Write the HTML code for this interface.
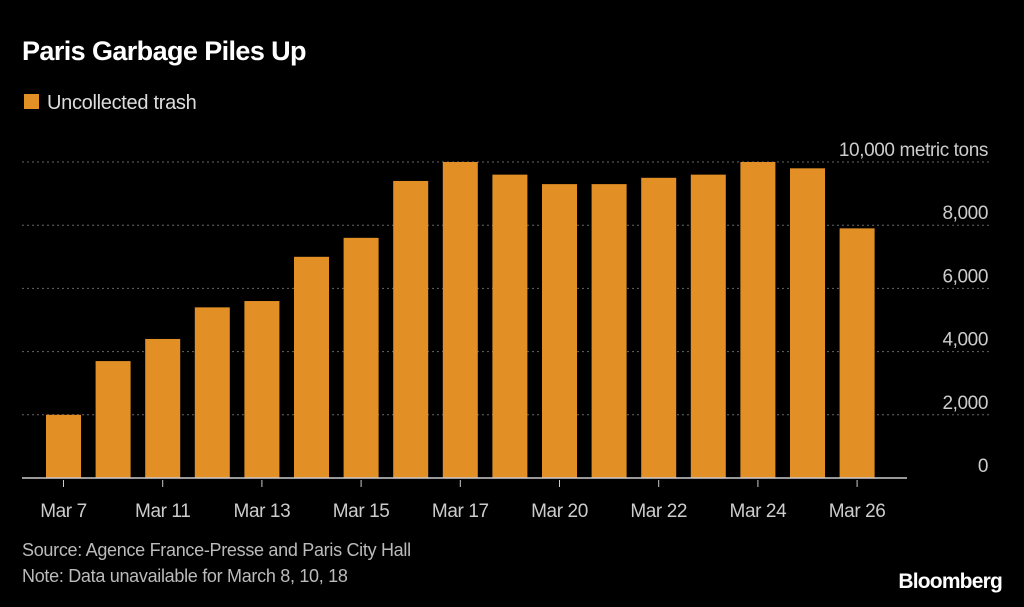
<!DOCTYPE html>
<html><head><meta charset="utf-8"><style>
html,body{margin:0;padding:0;background:#000;}
body{width:1024px;height:602px;overflow:hidden;font-family:"Liberation Sans",sans-serif;}
</style></head><body>
<svg id="chart" width="1024" height="602" xmlns="http://www.w3.org/2000/svg">
<rect x="0" y="0" width="1024" height="602" fill="#000"/>
<text x="22" y="60" fill="#fff" font-size="27" font-weight="bold" letter-spacing="-0.6">Paris Garbage Piles Up</text>
<rect x="24" y="94" width="15" height="15" fill="#e28f25"/>
<text x="47" y="109" fill="#ddd" font-size="20" letter-spacing="-0.3">Uncollected trash</text>
<g id="grid"></g>
<g id="bars"></g>
<g id="xlabels"></g>
<text x="22" y="556" fill="#bbb" font-size="18" letter-spacing="-0.3">Source: Agence France-Presse and Paris City Hall</text>
<text x="22" y="582" fill="#bbb" font-size="18" letter-spacing="-0.3">Note: Data unavailable for March 8, 10, 18</text>
<text x="1002" y="588" fill="#fff" font-size="21" font-weight="bold" text-anchor="end" letter-spacing="-0.8">Bloomberg</text>
</svg>
<script>
const categories=["Mar 7","Mar 9","Mar 11","Mar 12","Mar 13","Mar 14","Mar 15","Mar 16","Mar 17","Mar 19","Mar 20","Mar 21","Mar 22","Mar 23","Mar 24","Mar 25","Mar 26"];
const values=[2000,3700,4400,5400,5600,7000,7600,9400,10000,9600,9300,9300,9500,9600,10000,9800,7900];
const yTicks=[0,2000,4000,6000,8000,10000];
const yTickLabels=["0","2,000","4,000","6,000","8,000","10,000 metric tons"];
const xLabelIdx=[0,2,4,6,8,10,12,14,16];
const xLabels=["Mar 7","Mar 11","Mar 13","Mar 15","Mar 17","Mar 20","Mar 22","Mar 24","Mar 26"];
const NS="http://www.w3.org/2000/svg";
const y0=478,yTop=162,yMax=10000;
function yS(v){return y0-(v/yMax)*(y0-yTop);}
const xStart=63.5,step=49.6,bw=35;
function xS(i){return xStart+i*step;}
const grid=document.getElementById('grid');
yTicks.forEach((t,i)=>{
  const y=yS(t);
  if(t>0){
    const l=document.createElementNS(NS,'line');
    
    
    l.setAttribute('x1',22);l.setAttribute('x2',990);l.setAttribute('y1',y);l.setAttribute('y2',y);
    l.setAttribute('stroke','#666');l.setAttribute('stroke-dasharray','2,3');
    grid.appendChild(l);
  }
  const tx=document.createElementNS(NS,'text');
  
  
  tx.setAttribute('x',988);tx.setAttribute('y',y-6);tx.setAttribute('text-anchor','end');
  tx.setAttribute('fill','#ccc');tx.setAttribute('font-size','19');tx.setAttribute('letter-spacing','-0.4');
  tx.textContent=yTickLabels[i];
  grid.appendChild(tx);
});
const bars=document.getElementById('bars');
values.forEach((v,i)=>{
  const r=document.createElementNS(NS,'rect');
  
  
  r.setAttribute('x',xS(i)-bw/2);r.setAttribute('width',bw);
  r.setAttribute('y',yS(v));r.setAttribute('height',y0-yS(v));
  r.setAttribute('fill','#e28f25');
  bars.appendChild(r);
});
const base=document.createElementNS(NS,'line');


base.setAttribute('x1',22);base.setAttribute('x2',907);base.setAttribute('y1',y0);base.setAttribute('y2',y0);
base.setAttribute('stroke','#ccc');base.setAttribute('stroke-width','1.5');
bars.appendChild(base);
const xl=document.getElementById('xlabels');
xLabelIdx.forEach((idx,k)=>{
  const tk=document.createElementNS(NS,'line');
  
  
  tk.setAttribute('x1',xS(idx));tk.setAttribute('x2',xS(idx));tk.setAttribute('y1',y0+2);tk.setAttribute('y2',y0+9);
  tk.setAttribute('stroke','#ccc');
  xl.appendChild(tk);
  const t=document.createElementNS(NS,'text');
  
  
  t.setAttribute('x',xS(idx));t.setAttribute('y',517);t.setAttribute('text-anchor','middle');
  t.setAttribute('fill','#ccc');t.setAttribute('font-size','19');t.setAttribute('letter-spacing','-0.4');
  t.textContent=xLabels[k];
  xl.appendChild(t);
});
</script>
</body></html>
